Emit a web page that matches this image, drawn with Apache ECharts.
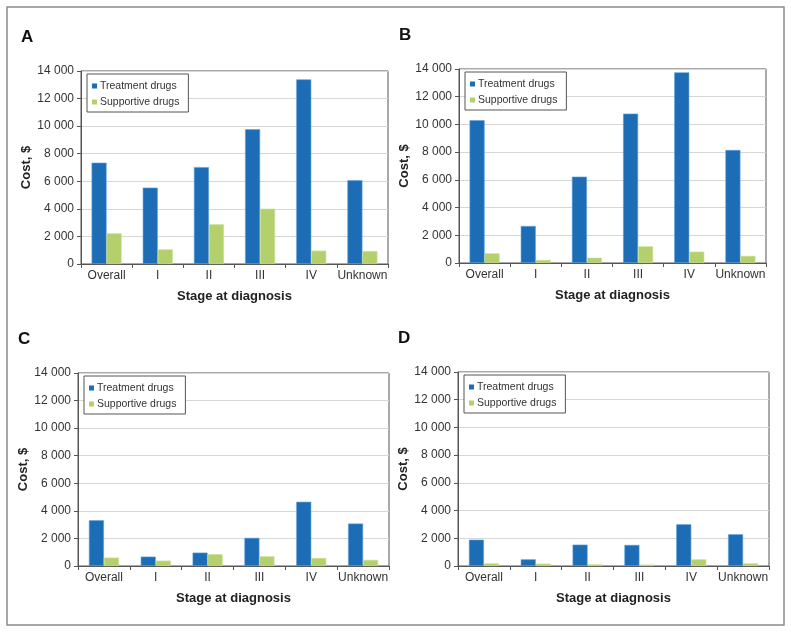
<!DOCTYPE html>
<html>
<head>
<meta charset="utf-8">
<script src="https://cdn.jsdelivr.net/npm/echarts@6/dist/echarts.min.js"></script>
<style>
  html, body { margin: 0; padding: 0; background: #fff; }
  #chart { width: 791px; height: 633px; }
</style>
</head>
<body>
<div id="chart"></div>
<script>
const stages = ['Overall', 'I', 'II', 'III', 'IV', 'Unknown']
const seriesNames = ['Treatment drugs', 'Supportive drugs']
const panelLabels = ['A', 'B', 'C', 'D']

// cost, $ per stage
const aTreatment = [7350, 5540, 7030, 9770, 13390, 6070]
const aSupportive = [2220, 1060, 2880, 4010, 970, 940]
const bTreatment = [10300, 2670, 6230, 10780, 13760, 8150]
const bSupportive = [700, 220, 380, 1200, 820, 510]
const cTreatment = [3320, 680, 970, 2040, 4660, 3080]
const cSupportive = [610, 390, 850, 700, 580, 440]
const dTreatment = [1900, 480, 1540, 1520, 3010, 2290]
const dSupportive = [190, 170, 120, 100, 480, 190]

const yMin = 0
const yMax = 14000
const yStep = 2000

const panelData = [
  [aTreatment, aSupportive],
  [bTreatment, bSupportive],
  [cTreatment, cSupportive],
  [dTreatment, dSupportive]
]

// plot boxes: left, top, width, height
const boxes = [
  [81, 71, 307, 193],
  [459, 69, 307, 194],
  [78, 373, 311, 193],
  [458, 372, 311, 194]
]

const font = 'Liberation Sans, Arial, sans-serif'
const blue = '#1c6db6'
const green = '#b3d06c'

let chart = echarts.init(document.getElementById('chart'))

let fmt = v => {
  let s = String(v)
  return s.length > 3 ? s.slice(0, -3) + ' ' + s.slice(-3) : s
}

let option = {
  animation: false,
  color: [blue, green],
  textStyle: { fontFamily: font },
  title: [],
  legend: [],
  grid: [],
  xAxis: [],
  yAxis: [],
  series: [],
  graphic: [{
    type: 'rect',
    shape: { x: 7, y: 7, width: 777, height: 618 },
    style: { fill: 'none', stroke: '#8a8a8a', lineWidth: 1.5 },
    silent: true
  }]
}

boxes.forEach((b, i) => {
  option.title.push({
    text: panelLabels[i],
    left: b[0] - 60,
    top: b[1] - 42,
    padding: 0,
    textStyle: { fontFamily: font, fontSize: 17, fontWeight: 'bold', color: '#111' }
  })
  option.grid.push({
    left: b[0], top: b[1], width: b[2], height: b[3],
    show: true, borderColor: '#555', borderWidth: 1, backgroundColor: '#fff'
  })
  option.legend.push({
    data: seriesNames,
    orient: 'vertical',
    left: b[0] + 6,
    top: b[1] + 3,
    icon: 'rect',
    itemWidth: 5,
    itemHeight: 5,
    itemGap: 2,
    padding: [5, 9, 3, 5],
    borderColor: '#555',
    borderWidth: 1,
    backgroundColor: '#fff',
    itemStyle: { borderWidth: 0 },
    textStyle: { fontFamily: font, fontSize: 10.5, lineHeight: 14, color: '#333', padding: [0, 0, 0, -2] },
    selectedMode: false
  })
  option.xAxis.push({
    type: 'category',
    gridIndex: i,
    data: stages,
    name: 'Stage at diagnosis',
    nameLocation: 'middle',
    nameGap: 26,
    nameTextStyle: { fontFamily: font, fontSize: 13, fontWeight: 'bold', color: '#222' },
    axisLine: { lineStyle: { color: '#555' } },
    axisTick: { show: true, length: 4, lineStyle: { color: '#555' } },
    axisLabel: { fontFamily: font, fontSize: 12, color: '#333', margin: 6, interval: 0 }
  })
  option.yAxis.push({
    type: 'value',
    gridIndex: i,
    min: yMin,
    max: yMax,
    interval: yStep,
    name: 'Cost, $',
    nameLocation: 'middle',
    nameGap: 44,
    nameTextStyle: { fontFamily: font, fontSize: 13, fontWeight: 'bold', color: '#222' },
    axisLine: { show: true, lineStyle: { color: '#555' } },
    axisTick: { show: true, length: 4, lineStyle: { color: '#555' } },
    axisLabel: { fontFamily: font, fontSize: 12, color: '#333', margin: 7, formatter: fmt },
    splitLine: { lineStyle: { color: '#d6d6d6' } }
  })
  panelData[i].forEach((vals, k) => {
    option.series.push({
      type: 'bar',
      name: seriesNames[k],
      xAxisIndex: i,
      yAxisIndex: i,
      data: vals,
      barWidth: 15,
      barGap: '0%',
      itemStyle: {
        color: k === 0 ? blue : green,
        borderColor: k === 0 ? '#5d9fd8' : '#c9e08f',
        borderWidth: 0.6
      }
    })
  })
})

chart.setOption(option)
</script>
</body>
</html>
